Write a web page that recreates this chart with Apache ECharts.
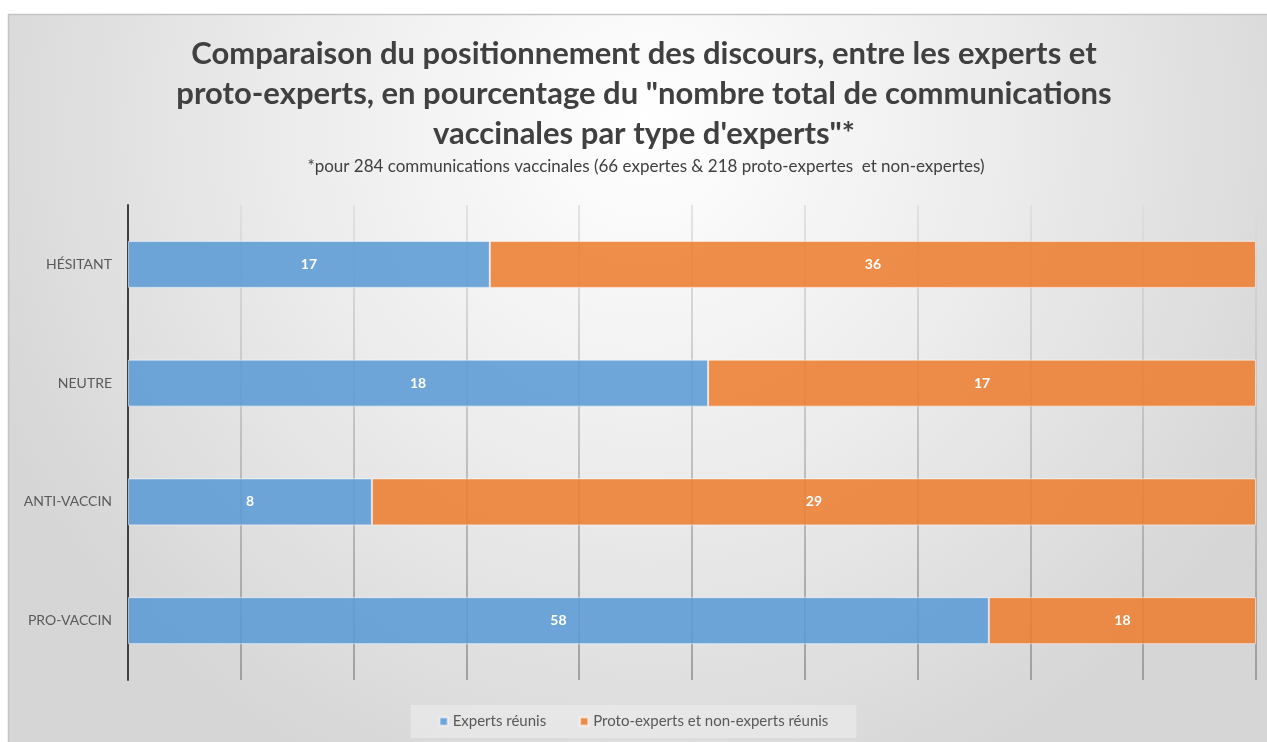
<!DOCTYPE html>
<html>
<head>
<meta charset="utf-8">
<script src="https://cdn.jsdelivr.net/npm/echarts@6/dist/echarts.min.js"></script>
<style>
html,body{margin:0;padding:0;background:#fff;}
#chart{width:1267px;height:742px;}
</style>
</head>
<body>
<div id="chart"></div>
<script>
// Positions of discourse, top row first
const categories = ['HÉSITANT', 'NEUTRE', 'ANTI-VACCIN', 'PRO-VACCIN'];
// Number of communications per position
const expertCounts = [17, 18, 8, 58];
const protoCounts = [36, 17, 29, 18];
const seriesNames = ['Experts réunis', 'Proto-experts et non-experts réunis'];

const titleLines = [
  'Comparaison du positionnement des discours, entre les experts et',
  'proto-experts, en pourcentage du "nombre total de communications',
  'vaccinales par type d\'experts"*'
];
const subtitleText = '*pour 284 communications vaccinales (66 expertes & 218 proto-expertes  et non-expertes)';

// 100% stacked shares, labels keep the raw counts
const totals = categories.map((_, i) => expertCounts[i] + protoCounts[i]);
const expertData = expertCounts.map((c, i) => ({ value: c / totals[i] * 100, count: c }));
const protoData = protoCounts.map((c, i) => ({ value: c / totals[i] * 100, count: c }));

const chart = echarts.init(document.getElementById('chart'), null, { renderer: 'canvas' });
const font = 'Lato, "Open Sans", sans-serif';

const barLabel = {
  show: true,
  position: 'inside',
  color: '#ffffff',
  fontFamily: font,
  fontWeight: 'bold',
  fontSize: 14,
  formatter: p => p.data.count
};

const titleGraphics = titleLines.map((line, i) => ({
  type: 'text',
  x: 644,
  y: 54 + i * 40,
  silent: true,
  style: {
    text: line,
    align: 'center',
    verticalAlign: 'middle',
    font: 'bold 31px ' + font,
    fill: '#404040'
  }
}));

chart.setOption({
  animation: false,
  graphic: [{
    type: 'rect',
    z: -10,
    silent: true,
    shape: { x: 8.5, y: 14.5, width: 1275, height: 745 },
    style: {
      fill: {
        type: 'radial', x: 0.5, y: 0.15, r: 0.95,
        colorStops: [
          { offset: 0, color: '#ffffff' },
          { offset: 0.5, color: '#ececec' },
          { offset: 1, color: '#d6d6d6' }
        ]
      },
      stroke: '#c4c4c4',
      lineWidth: 1.5
    }
  }].concat(titleGraphics).concat([{
    type: 'text',
    x: 646,
    y: 167,
    silent: true,
    style: {
      text: subtitleText,
      align: 'center',
      verticalAlign: 'middle',
      font: '17px ' + font,
      fill: '#404040'
    }
  }]),
  legend: {
    bottom: 4,
    left: 'center',
    icon: 'rect',
    itemWidth: 8,
    itemHeight: 8,
    itemGap: 33,
    padding: [9, 28, 9, 28],
    backgroundColor: 'rgba(255,255,255,0.3)',
    textStyle: { fontFamily: font, fontSize: 15, color: '#595959' },
    data: seriesNames
  },
  grid: { left: 128, right: 11, top: 205, bottom: 62 },
  xAxis: {
    type: 'value',
    min: 0,
    max: 100,
    interval: 10,
    axisLabel: { show: false },
    axisLine: { show: false },
    axisTick: { show: false },
    splitLine: {
      show: true,
      lineStyle: {
        width: 1.5,
        color: {
          type: 'linear', global: true, x: 0, y: 205, x2: 0, y2: 680,
          colorStops: [
            { offset: 0, color: '#dcdcdc' },
            { offset: 1, color: '#8c8c8c' }
          ]
        }
      }
    }
  },
  yAxis: {
    type: 'category',
    inverse: true,
    data: categories,
    axisLine: { show: true, lineStyle: { color: '#404040', width: 2 } },
    axisTick: { show: false },
    axisLabel: { fontFamily: font, fontSize: 14, color: '#595959', margin: 16 }
  },
  series: [{
    name: seriesNames[0],
    type: 'bar',
    stack: 'total',
    barWidth: 47,
    data: expertData,
    itemStyle: { color: 'rgba(91,155,213,0.88)', borderColor: 'rgba(255,255,255,0.55)', borderWidth: 1 },
    label: barLabel
  }, {
    name: seriesNames[1],
    type: 'bar',
    stack: 'total',
    barWidth: 47,
    data: protoData,
    itemStyle: { color: 'rgba(237,125,49,0.88)', borderColor: 'rgba(255,255,255,0.55)', borderWidth: 1 },
    label: barLabel
  }]
});
</script>
</body>
</html>
